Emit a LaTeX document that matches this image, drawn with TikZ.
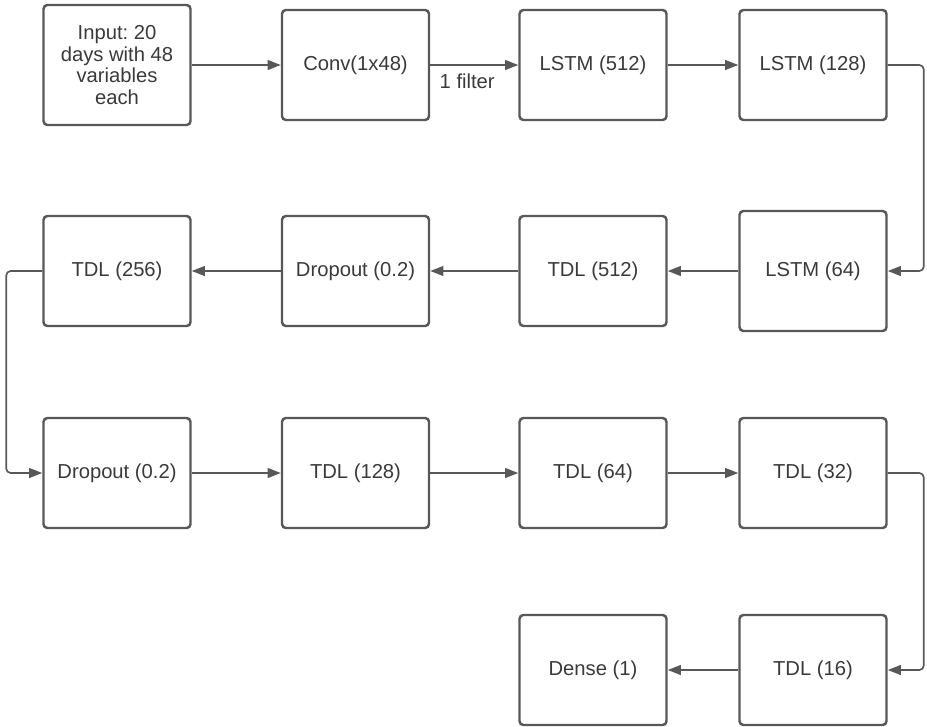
\documentclass[tikz,border=0pt]{standalone}
\usepackage{fontspec}
\setmainfont{Liberation Sans}
\usepackage{tikz}
\usetikzlibrary{arrows.meta, positioning}
\definecolor{linegray}{RGB}{88, 88, 88}
\definecolor{textgray}{RGB}{58, 58, 58}
\frenchspacing

\begin{document}
\begin{tikzpicture}[
    on grid,
    every node/.style={font=\fontsize{11.5}{12.3}\selectfont, text=textgray},
    box/.style={rectangle, draw=linegray, line width=1.4pt, rounded corners=2.2pt,
                fill=white, align=center, minimum width=2.94cm, minimum height=2.2cm},
    arrow/.style={-{Triangle[length=7.5pt, width=5.6pt]}, linegray, line width=0.95pt},
    elbow/.style={arrow, rounded corners=2.5pt}
]
    \useasboundingbox (0,0) rectangle (18.54,-14.52);
    \node[box, minimum height=2.4cm] (inp) at (2.34,-1.30)
        {Input: 20\\days with 48\\variables\\each};
    \node[box, right=4.77cm of inp]   (conv)  {Conv(1x48)};
    \node[box, right=4.75cm of conv]  (lstmA) {LSTM (512)};
    \node[box, right=4.40cm of lstmA] (lstmB) {LSTM (128)};
    \node[box, minimum height=2.4cm, below=4.12cm of lstmB] (lstmC) {LSTM (64)};
    \node[box, left=4.40cm of lstmC]  (tdlA)  {TDL (512)};
    \node[box, left=4.75cm of tdlA]   (dropA) {Dropout (0.2)};
    \node[box, left=4.77cm of dropA]  (tdlB)  {TDL (256)};
    \node[box, below=4.04cm of tdlB]  (dropB) {Dropout (0.2)};
    \node[box, right=4.77cm of dropB] (tdlC)  {TDL (128)};
    \node[box, right=4.75cm of tdlC]  (tdlD)  {TDL (64)};
    \node[box, right=4.40cm of tdlD]  (tdlE)  {TDL (32)};
    \node[box, below=3.94cm of tdlE]  (tdlF)  {TDL (16)};
    \node[box, left=4.40cm of tdlF]   (dense) {Dense (1)};
    \draw[arrow] (inp) -- (conv);
    \draw[arrow] (conv) -- node[below=0.05cm, pos=0.42] (flt) {1 filter} (lstmA);
    \draw[arrow] (lstmA) -- (lstmB);
    \draw[elbow] (lstmB.east) -- ++(0.72,0) |- (lstmC.east);
    \draw[arrow] (lstmC) -- (tdlA);
    \draw[arrow] (tdlA) -- (dropA);
    \draw[arrow] (dropA) -- (tdlB);
    \draw[elbow] (tdlB.west) -- ++(-0.72,0) |- (dropB.west);
    \draw[arrow] (dropB) -- (tdlC);
    \draw[arrow] (tdlC) -- (tdlD);
    \draw[arrow] (tdlD) -- (tdlE);
    \draw[elbow] (tdlE.east) -- ++(0.72,0) |- (tdlF.east);
    \draw[arrow] (tdlF) -- (dense);
\end{tikzpicture}
\end{document}
